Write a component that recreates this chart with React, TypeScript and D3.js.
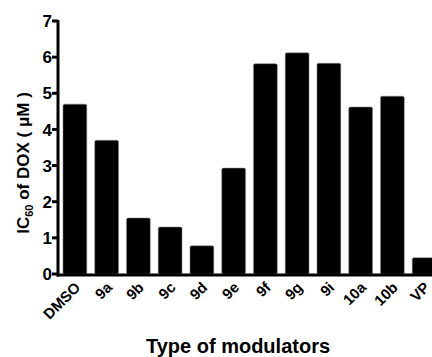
import React from "react";
import * as d3 from "d3";

const categories = ["DMSO", "9a", "9b", "9c", "9d", "9e", "9f", "9g", "9i", "10a", "10b", "VP"];
const values = [4.7, 3.7, 1.55, 1.3, 0.78, 2.93, 5.82, 6.12, 5.83, 4.62, 4.92, 0.45];
const yTicks = [0, 1, 2, 3, 4, 5, 6, 7];

const W = 432;
const H = 357;
const FONT = "'Liberation Sans', Arial, Helvetica, sans-serif";

export default function App() {
  const x = d3
    .scaleBand<string>()
    .domain(categories)
    .range([59, 440])
    .paddingInner(0.25)
    .paddingOuter(0.125);
  const y = d3.scaleLinear().domain([0, 7]).range([274, 21]);
  const axisX = 58;
  const baseY = 275;

  return (
    <svg
      width={W}
      height={H}
      style={{ position: "absolute", left: 0, top: 0, background: "#fff" }}
      fontFamily={FONT}
    >
      {categories.map((c, i) => (
        <rect
          key={c}
          x={x(c)}
          y={y(values[i])}
          width={x.bandwidth()}
          height={y(0) - y(values[i])}
          rx={1.5}
          fill="#000"
          stroke="#888"
          strokeWidth={0.5}
        />
      ))}
      <line x1={axisX} x2={axisX} y1={y(7) - 1} y2={baseY + 1.5} stroke="#000" strokeWidth={3} />
      <line x1={axisX - 1.5} x2={W} y1={baseY} y2={baseY} stroke="#000" strokeWidth={3} />
      {yTicks.map((t) => (
        <g key={t}>
          <line x1={axisX - 6} x2={axisX} y1={y(t)} y2={y(t)} stroke="#000" strokeWidth={3} />
          <text
            x={axisX - 6}
            y={y(t)}
            dy="0.36em"
            textAnchor="end"
            fontSize={17}
            fontWeight="bold"
          >
            {t}
          </text>
        </g>
      ))}
      {categories.map((c) => {
        const cx = (x(c) as number) + x.bandwidth() / 2;
        return (
          <text
            key={c}
            transform={`translate(${cx - 1},${281}) rotate(-45)`}
            textAnchor="end"
            dy="0.7em"
            fontSize={15}
            fontWeight="bold"
          >
            {c}
          </text>
        );
      })}
      <text x={238} y={353} textAnchor="middle" fontSize={20} fontWeight="bold">
        Type of modulators
      </text>
      <text
        transform={`translate(29,163) rotate(-90)`}
        textAnchor="middle"
        fontSize={17}
        fontWeight="bold"
      >
        IC
        <tspan fontSize={11} dy={4}>60</tspan>
        <tspan dy={-4}> of DOX ( μM )</tspan>
      </text>
    </svg>
  );
}
